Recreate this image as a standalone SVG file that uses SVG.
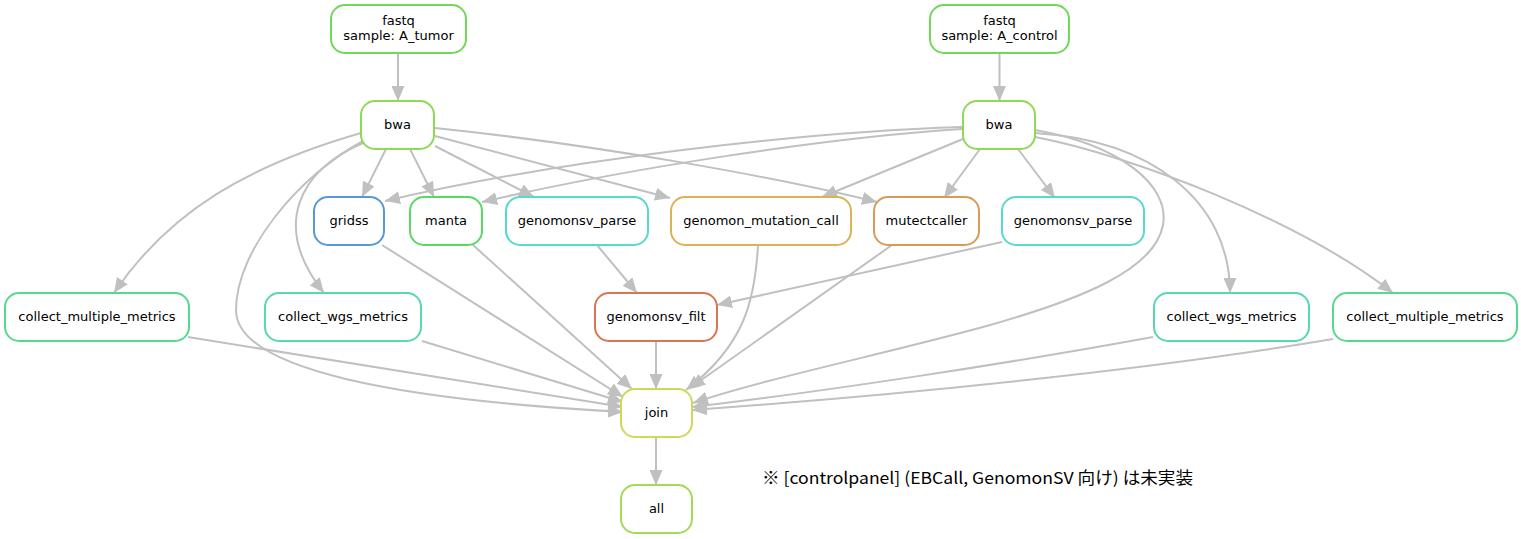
<svg xmlns="http://www.w3.org/2000/svg" width="1521" height="539" viewBox="0 0 1521 539">
<style>
.n rect{fill:#fff;stroke-width:2}
.n text{font-family:"DejaVu Sans","Liberation Sans",sans-serif;font-size:13px;fill:#000;text-anchor:middle}
#edges path{fill:none;stroke:#c0c0c0;stroke-width:2;marker-end:url(#ah)}
.note{font-family:"Noto Sans CJK JP","Noto Sans",sans-serif;font-size:16.5px;fill:#000}
</style>
<defs>
<marker id="ah" viewBox="0 0 15 13" refX="15" refY="6.5" markerWidth="15" markerHeight="13" markerUnits="userSpaceOnUse" orient="auto">
<path d="M0,0 L15,6.5 L0,13 z" fill="#c0c0c0"/>
</marker>
</defs>
<rect width="1521" height="539" fill="#fff"/>
<g id="edges">
<path d="M398,53 L398,101"/>
<path d="M999.5,53 L999.5,101"/>
<path d="M386,149 L362,197"/>
<path d="M410,149 L434,197"/>
<path d="M435,146 L534,197"/>
<path d="M435,136 L670,198"/>
<path d="M435,128 C600,145 780,178 877,202"/>
<path d="M361,133 C250,165 170,210 114,293"/>
<path d="M363,143 C300,170 270,225 324,293"/>
<path d="M363,141 C300,175 236,250 236,310 C236,370 400,400 623,412"/>
<path d="M962,127 C800,132 560,160 385,201"/>
<path d="M962,129 C820,138 620,170 482,202"/>
<path d="M963,139 L822,197"/>
<path d="M980,149 L944,198"/>
<path d="M1018,149 L1055,198"/>
<path d="M1035,133 C1150,140 1230,200 1230,293"/>
<path d="M1035,137 C1130,155 1300,220 1393,293"/>
<path d="M1035,130 C1120,145 1170,185 1163,225 C1155,270 1080,300 983,327 C880,355 760,380 693,403"/>
<path d="M382,245 L623,397"/>
<path d="M473,245 L632,389"/>
<path d="M597,245 L637,293"/>
<path d="M758,245 C755,300 745,345 686,390"/>
<path d="M892,245 L690,388"/>
<path d="M1002,242 L717,305"/>
<path d="M656,341 L656,389"/>
<path d="M188,337 L623,407"/>
<path d="M422,341 L623,402"/>
<path d="M1153,337 C1000,365 820,392 692,407"/>
<path d="M1333,339 C1150,370 900,395 692,410"/>
<path d="M656,437 L656,485"/>
</g>
<g id="fastq_tumor" class="n"><rect x="331" y="5" width="135" height="48" rx="14" stroke="#71d957"/><text x="398.5" y="25">fastq</text><text x="398.5" y="40">sample: A_tumor</text></g>
<g id="fastq_control" class="n"><rect x="930" y="5" width="139" height="48" rx="14" stroke="#71d957"/><text x="999.5" y="25">fastq</text><text x="999.5" y="40">sample: A_control</text></g>
<g id="bwa_tumor" class="n"><rect x="361" y="101" width="73" height="48" rx="14" stroke="#8fd957"/><text x="397.5" y="128.5">bwa</text></g>
<g id="bwa_control" class="n"><rect x="963" y="101" width="72" height="48" rx="14" stroke="#8fd957"/><text x="999" y="128.5">bwa</text></g>
<g id="gridss" class="n"><rect x="314" y="197" width="70" height="48" rx="14" stroke="#5798d9"/><text x="349" y="224.5">gridss</text></g>
<g id="manta" class="n"><rect x="410" y="197" width="72" height="48" rx="14" stroke="#57d964"/><text x="446" y="224.5">manta</text></g>
<g id="genomonsv_parse_tumor" class="n"><rect x="506" y="197" width="142" height="48" rx="14" stroke="#57d9d0"/><text x="577" y="224.5">genomonsv_parse</text></g>
<g id="genomon_mutation_call" class="n"><rect x="671" y="197" width="180" height="48" rx="14" stroke="#d9b457"/><text x="761" y="224.5">genomon_mutation_call</text></g>
<g id="mutectcaller" class="n"><rect x="874" y="197" width="105" height="48" rx="14" stroke="#d99c57"/><text x="926.5" y="224.5">mutectcaller</text></g>
<g id="genomonsv_parse_control" class="n"><rect x="1002" y="197" width="142" height="48" rx="14" stroke="#57d9d0"/><text x="1073" y="224.5">genomonsv_parse</text></g>
<g id="collect_multiple_metrics_tumor" class="n"><rect x="5" y="293" width="184" height="48" rx="14" stroke="#57d98b"/><text x="97" y="320.5">collect_multiple_metrics</text></g>
<g id="collect_wgs_metrics_tumor" class="n"><rect x="265" y="293" width="156" height="48" rx="14" stroke="#57d9a9"/><text x="343" y="320.5">collect_wgs_metrics</text></g>
<g id="genomonsv_filt" class="n"><rect x="595" y="293" width="122" height="48" rx="14" stroke="#d97557"/><text x="656" y="320.5">genomonsv_filt</text></g>
<g id="collect_wgs_metrics_control" class="n"><rect x="1154" y="293" width="155" height="48" rx="14" stroke="#57d9a9"/><text x="1231.5" y="320.5">collect_wgs_metrics</text></g>
<g id="collect_multiple_metrics_control" class="n"><rect x="1333" y="293" width="184" height="48" rx="14" stroke="#57d98b"/><text x="1425" y="320.5">collect_multiple_metrics</text></g>
<g id="join" class="n"><rect x="621" y="389" width="71" height="48" rx="14" stroke="#ced957"/><text x="656.5" y="416.5">join</text></g>
<g id="all" class="n"><rect x="621" y="485" width="71" height="48" rx="14" stroke="#a7d957"/><text x="656.5" y="512.5">all</text></g>
<text class="note" x="762" y="484" textLength="431" lengthAdjust="spacingAndGlyphs">※ [controlpanel] (EBCall, GenomonSV 向け) は未実装</text>
</svg>
